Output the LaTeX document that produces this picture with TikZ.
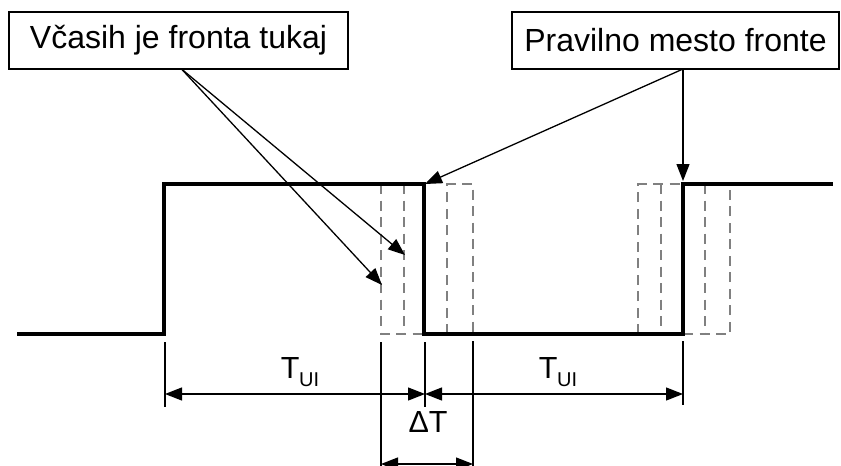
\documentclass[tikz,border=0pt]{standalone}
\usepackage{fontspec}
\setmainfont{Liberation Sans}
\usetikzlibrary{arrows.meta}
\begin{document}
\begin{tikzpicture}[x=1pt,y=-1pt,
  labelbox/.style={draw, line width=1.4pt, inner sep=0pt, minimum height=57pt,
    font=\fontsize{32}{36}\selectfont},
  callout/.style={line width=1.3pt, -{Triangle[length=17pt,width=13pt]}},
  dimarrow/.style={line width=1.3pt, {Triangle[length=17pt,width=13pt]}-{Triangle[length=17pt,width=13pt]}},
  signal/.style={line width=3.8pt, line join=miter},
  ghost/.style={line width=2.5pt, draw=black!50, dash pattern=on 10pt off 6.5pt},
  extline/.style={line width=1.3pt},
  dimlabel/.style={inner sep=0pt, anchor=base, font=\fontsize{30.5}{36}\selectfont}]
\useasboundingbox (0,0) rectangle (841,466);
\fill[white] (0,0) rectangle (841,466);
% label boxes
\node[labelbox, minimum width=339pt] (b1) at (178.5,40.5) {\raisebox{-2pt}{Včasih je fronta tukaj}};
\node[labelbox, minimum width=327pt] (b2) at (675.5,40.5) {\raisebox{-2pt}{Pravilno mesto fronte}};
% signal corners
\coordinate (s0) at (17,334);
\coordinate (s1) at (164,334);
\coordinate (s2) at (164,184);
\coordinate (s3) at (424,184);
\coordinate (s4) at (424,334);
\coordinate (s5) at (683,334);
\coordinate (s6) at (683,184);
\coordinate (s7) at (833,184);
% ghost edges (jitter)
\draw[ghost] (381,184) -- (381,334) -- (s4);
\draw[ghost] (404,184) -- (404,334);
\draw[ghost] (447,334) -- (447,184) -- (473,184) -- (473,334);
\draw[ghost] (638,334) -- (638,184) -- (s6);
\draw[ghost] (661,184) -- (661,334);
\draw[ghost] (705,184) -- (705,334);
\draw[ghost] (s5) -- (730,334) -- (730,184);
% signal
\draw[signal] (s0) -- (s1) -- (s2) -- (s3) -- (s4) -- (s5) -- (s6) -- (s7);
% callout arrows
\coordinate (c1) at (181.5,69);
\coordinate (t1) at (382,285);
\coordinate (t2) at (405,255);
\coordinate (c2) at (683,69);
\coordinate (t3) at (425,184);
\coordinate (t4) at (683,181);
\draw[callout] (c1) -- (t1);
\draw[callout] (c1) -- (t2);
\draw[callout] (c2) -- (t3);
\draw[callout] (c2) -- (t4);
% extension lines
\coordinate (e1a) at (165,342); \coordinate (e1b) at (165,407);
\coordinate (e2a) at (381,342); \coordinate (e2b) at (381,466);
\coordinate (e3a) at (425,342); \coordinate (e3b) at (425,407);
\coordinate (e4a) at (473,341); \coordinate (e4b) at (473,466);
\coordinate (e5a) at (683,341); \coordinate (e5b) at (683,405);
\draw[extline] (e1a) -- (e1b);
\draw[extline] (e2a) -- (e2b);
\draw[extline] (e3a) -- (e3b);
\draw[extline] (e4a) -- (e4b);
\draw[extline] (e5a) -- (e5b);
% dimension arrows
\coordinate (d1) at (165,394);
\coordinate (d2) at (425,394);
\coordinate (d3) at (683,394);
\coordinate (d4) at (381,464);
\coordinate (d5) at (473,464);
\draw[dimarrow] (d1) -- (d2);
\draw[dimarrow] (d2) -- (d3);
\draw[dimarrow] (d4) -- (d5);
% labels
\node[dimlabel] (l1) at (300,378.5) {T\kern-0.5pt\raisebox{-8.4pt}{\fontsize{20}{24}\selectfont UI}};
\node[dimlabel] (l2) at (558,378.5) {T\kern-0.5pt\raisebox{-8.4pt}{\fontsize{20}{24}\selectfont UI}};
\node[dimlabel] (l3) at (428,432.5) {ΔT};
\end{tikzpicture}
\end{document}
